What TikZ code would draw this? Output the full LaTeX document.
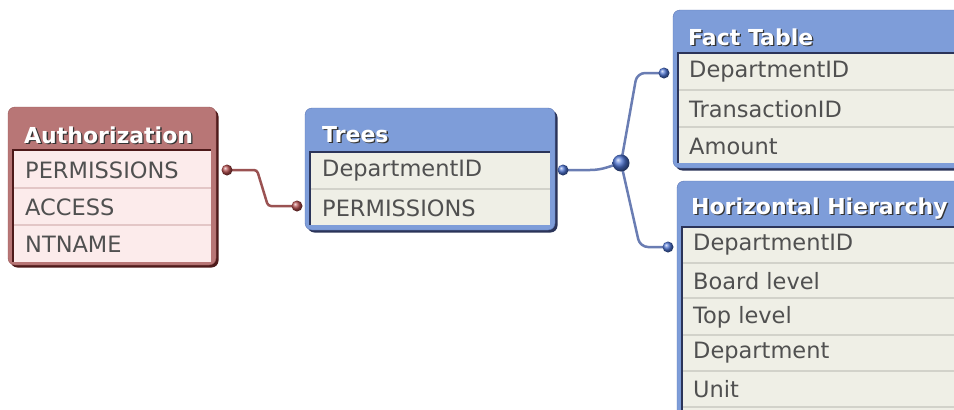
\documentclass[tikz,border=0pt]{standalone}
\usepackage{fontspec}
\setmainfont{DejaVu Sans}
\usetikzlibrary{shadings}
\definecolor{blhead}{HTML}{7E9DD9}
\definecolor{blrow}{HTML}{EFEFE6}
\definecolor{bldiv}{HTML}{D2D2CA}
\definecolor{bldark}{HTML}{2B3459}
\definecolor{bledge}{HTML}{5C76B5}
\definecolor{bllinkc}{HTML}{6A7DB3}
\definecolor{blball}{HTML}{4C72D0}
\definecolor{auhead}{HTML}{B87676}
\definecolor{aurow}{HTML}{FCEBEB}
\definecolor{audiv}{HTML}{E3C6C6}
\definecolor{audark}{HTML}{4E1A1A}
\definecolor{auedge}{HTML}{9B5959}
\definecolor{aulinkc}{HTML}{9A5252}
\definecolor{auball}{HTML}{B04A4A}
\definecolor{rowtxt}{HTML}{505050}
\newcommand{\tblbox}[7]{%
  \fill[#7dark, rounded corners=7] (#1+2.5,#2+2.5) rectangle (#3+2.5,#4+2.5);
  \filldraw[fill=#7head, draw=#7edge, rounded corners=7] (#1,#2) rectangle (#3,#4);
  \fill[#7row] (#1+5,#5) rectangle (#3-5,#6);
  \draw[#7dark, line width=2.2] (#1+5,#6) -- (#1+5,#5) -- (#3-5,#5);
}
\tikzset{
  hdr/.style={font=\fontsize{22}{26}\selectfont\bfseries, text=white, anchor=base west, inner sep=0},
  hdrsh/.style={font=\fontsize{22}{26}\selectfont\bfseries, text=black!80, anchor=base west, inner sep=0},
  rowt/.style={font=\fontsize{22.5}{26}\selectfont, text=rowtxt, anchor=west, inner sep=0},
  audiv/.style={draw=audiv, line width=1.5},
  bldiv/.style={draw=bldiv, line width=1.5},
  sdot/.style={circle, inner sep=0, minimum size=11pt},
  bdot/.style={circle, inner sep=0, minimum size=17pt},
  aulink/.style={draw=aulinkc, line width=2.5, rounded corners=3},
  bllink/.style={draw=bllinkc, line width=2.5, rounded corners=8},
}
\begin{document}
\begin{tikzpicture}[x=1pt,y=-1pt]
\useasboundingbox (0,0) rectangle (954,410);
\clip (0,0) rectangle (954,410);
\fill[white] (0,0) rectangle (954,410);

% Authorization
\tblbox{8}{107}{216}{265}{150}{262}{au}
\draw[audiv] (14,188) -- (211,188);
\draw[audiv] (14,225) -- (211,225);
\node[hdrsh] at (25.3,144.3) {Authorization};
\node[hdr] (authT) at (24,143) {Authorization};
\node[rowt] (au1) at (25,170) {PERMISSIONS};
\node[rowt] (au2) at (25,207) {ACCESS};
\node[rowt] (au3) at (25,244) {NTNAME};

% Trees
\tblbox{305}{108}{555}{230}{152}{225}{bl}
\draw[bldiv] (311,189) -- (550,189);
\node[hdrsh] at (323.3,143.3) {Trees};
\node[hdr] (treesT) at (322,142) {Trees};
\node[rowt] (tr1) at (322,171) {DepartmentID};
\node[rowt] (tr2) at (322,208) {PERMISSIONS};

% Fact Table
\tblbox{673}{10}{975}{168}{53}{163}{bl}
\draw[bldiv] (679,90) -- (970,90);
\draw[bldiv] (679,127) -- (970,127);
\node[hdrsh] at (689.3,46.3) {Fact Table};
\node[hdr] (factT) at (688,45) {Fact Table};
\node[rowt] (ft1) at (689,72) {DepartmentID};
\node[rowt] (ft2) at (689,109) {TransactionID};
\node[rowt] (ft3) at (689,146) {Amount};

% Horizontal Hierarchy
\tblbox{677}{181}{975}{430}{227}{425}{bl}
\draw[bldiv] (683,263) -- (970,263);
\draw[bldiv] (683,298) -- (970,298);
\draw[bldiv] (683,335) -- (970,335);
\draw[bldiv] (683,371) -- (970,371);
\draw[bldiv] (683,407) -- (970,407);
\node[hdrsh] at (692.3,215.3) {Horizontal Hierarchy};
\node[hdr] (hhT) at (691,214) {Horizontal Hierarchy};
\node[rowt] (hh1) at (693,245) {DepartmentID};
\node[rowt] (hh2) at (693,281) {Board level};
\node[rowt] (hh3) at (693,317) {Top level};
\node[rowt] (hh4) at (693,353) {Department};
\node[rowt] (hh5) at (693,389) {Unit};

% connector dot positions
\coordinate (audotp) at (227,170);
\coordinate (trdotp) at (297,206);
\coordinate (tbdotp) at (563,170);
\coordinate (hubp) at (621,163);
\coordinate (ftdotp) at (664,73);
\coordinate (hhdotp) at (668,247);

% links
\draw[aulink] (audotp) -- (257,170) -- (268,206) -- (trdotp);
\draw[draw=bllinkc, line width=2.5] (tbdotp) -- (590,170) .. controls (603,170) and (610,166) .. (hubp);
\draw[bllink] (hubp) -- (637,73) -- (ftdotp);
\draw[bllink] (hubp) -- (640,247) -- (hhdotp);

% dots
\node[sdot, ball color=auball] (audot) at (audotp) {};
\node[sdot, ball color=auball] (trdot) at (trdotp) {};
\node[sdot, ball color=blball] (tbdot) at (tbdotp) {};
\node[bdot, ball color=blball] (hub) at (hubp) {};
\node[sdot, ball color=blball] (ftdot) at (ftdotp) {};
\node[sdot, ball color=blball] (hhdot) at (hhdotp) {};
\end{tikzpicture}
\end{document}
